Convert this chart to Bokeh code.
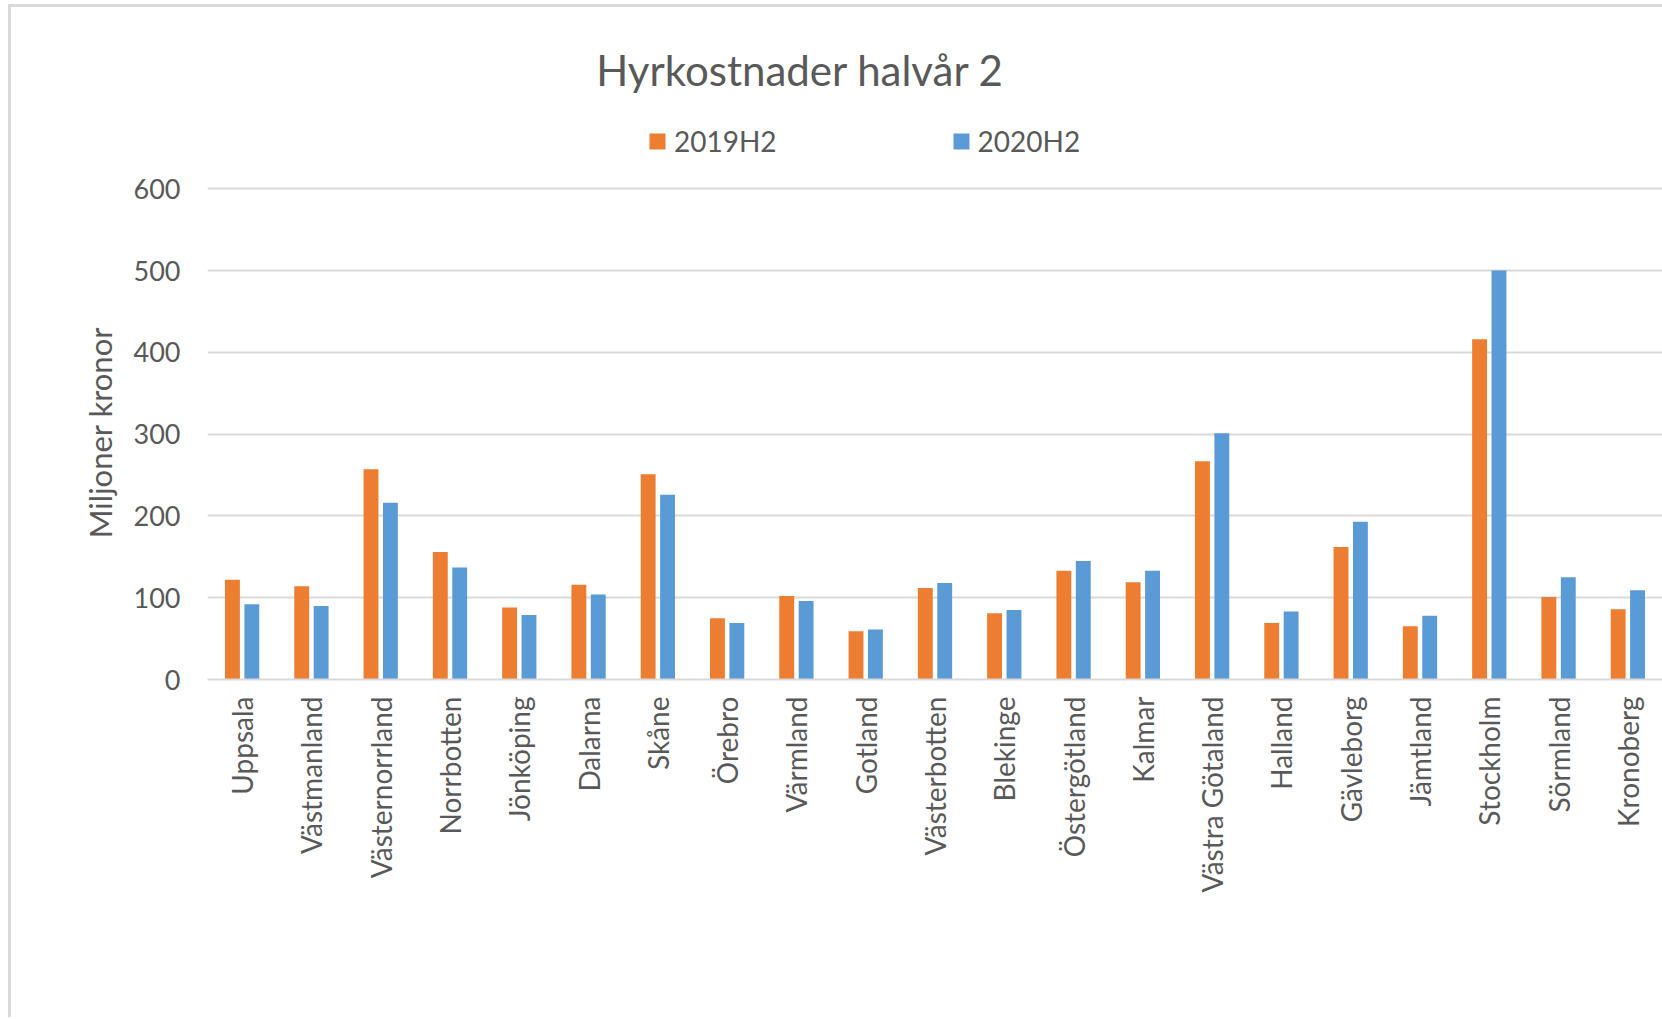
from bokeh.plotting import figure
from bokeh.models import (FactorRange, Range1d, FixedTicker, Legend, LegendItem,
                          Label, ColumnDataSource)
from bokeh.layouts import column
from bokeh.transform import dodge
from bokeh.embed import file_html
from bokeh.resources import INLINE
import math

# ---- data ----
regions = ["Uppsala", "Västmanland", "Västernorrland", "Norrbotten", "Jönköping",
           "Dalarna", "Skåne", "Örebro", "Värmland", "Gotland", "Västerbotten",
           "Blekinge", "Östergötland", "Kalmar", "Västra Götaland", "Halland",
           "Gävleborg", "Jämtland", "Stockholm", "Sörmland", "Kronoberg"]
h2019 = [122, 114, 257, 156, 88, 116, 251, 75, 102, 59, 112,
         81, 133, 119, 267, 69, 162, 65, 416, 101, 86]
h2020 = [92, 90, 216, 137, 79, 104, 226, 69, 96, 61, 118,
         85, 145, 133, 301, 83, 193, 78, 500, 125, 109]
series_names = ["2019H2", "2020H2"]
y_ticks = [0, 100, 200, 300, 400, 500, 600]
title_text = "Hyrkostnader halvår 2"
y_label = "Miljoner kronor"

ORANGE = "#ED7D31"
BLUE = "#5B9BD5"
GRID = "#D9D9D9"
TXT = "#595959"
FONT = "Lato"

# ---- header figure (title + legend); its frame is aligned with the chart frame ----
HEAD_W, HEAD_H = 1651, 162
head = figure(width=HEAD_W, height=HEAD_H, x_range=Range1d(0, 1), y_range=Range1d(0, 1),
              min_border=0, output_backend="svg", toolbar_location=None)
head.axis.visible = False
head.grid.visible = False
head.outline_line_color = None

head.add_layout(Label(x=593, y=100, x_units="screen", y_units="screen",
                      text=title_text, text_align="center", text_baseline="middle",
                      text_font=FONT, text_font_size="42px", text_color=TXT))

# legend swatches (renderers placed outside the visible range)
d1 = head.vbar(x=[-5], top=[-5], width=0.1, fill_color=ORANGE, line_color=None)
d2 = head.vbar(x=[-5], top=[-5], width=0.1, fill_color=BLUE, line_color=None)
legend = Legend(
    items=[LegendItem(label=series_names[0], renderers=[d1]),
           LegendItem(label=series_names[1], renderers=[d2])],
    orientation="horizontal", location=(440, 11),
    glyph_width=20, glyph_height=20, label_standoff=7, spacing=174,
    padding=0, margin=0, border_line_color=None, background_fill_alpha=0,
    label_text_font=FONT, label_text_font_size="28px", label_text_color=TXT,
    label_text_baseline="middle",
)
head.add_layout(legend, "center")

# ---- main chart ----
src = ColumnDataSource(dict(region=regions, a=h2019, b=h2020))

p = figure(
    x_range=FactorRange(*regions, range_padding=0),
    y_range=Range1d(0, 604),
    frame_width=1455, frame_height=494,
    min_border_left=196, min_border_top=16, min_border_right=0, min_border_bottom=338,
    output_backend="svg", toolbar_location=None,
)
p.outline_line_color = None

r1 = p.vbar(x=dodge("region", -0.14, range=p.x_range), top="a", width=0.215,
            source=src, fill_color=ORANGE, line_color=None)
r2 = p.vbar(x=dodge("region", 0.14, range=p.x_range), top="b", width=0.215,
            source=src, fill_color=BLUE, line_color=None)

p.yaxis.ticker = FixedTicker(ticks=y_ticks)
p.yaxis.axis_line_color = None
p.yaxis.major_tick_line_color = None
p.yaxis.minor_tick_line_color = None
p.yaxis.major_tick_out = 0
p.yaxis.major_label_standoff = 27
p.yaxis.major_label_text_font = FONT
p.yaxis.major_label_text_font_size = "27px"
p.yaxis.major_label_text_color = TXT
p.yaxis.axis_label = y_label
p.yaxis.axis_label_text_font = FONT
p.yaxis.axis_label_text_font_style = "normal"
p.yaxis.axis_label_text_font_size = "31px"
p.yaxis.axis_label_text_color = TXT
p.yaxis.axis_label_standoff = 12

p.xaxis.axis_line_color = GRID
p.xaxis.axis_line_width = 2
p.xaxis.major_tick_line_color = None
p.xaxis.minor_tick_line_color = None
p.xaxis.major_tick_out = 0
p.xaxis.major_label_orientation = math.pi / 2
p.xaxis.major_label_standoff = 17
p.xaxis.major_label_text_font = FONT
p.xaxis.major_label_text_font_size = "28px"
p.xaxis.major_label_text_color = TXT

p.xgrid.grid_line_color = None
p.ygrid.grid_line_color = GRID
p.ygrid.grid_line_width = 2

layout = column(head, p, spacing=0,
                styles={"margin-left": "8px", "margin-top": "4px",
                        "border-left": "3px solid #D9D9D9",
                        "border-top": "3px solid #D9D9D9"})

open("out.html", "w").write(file_html(layout, INLINE))
